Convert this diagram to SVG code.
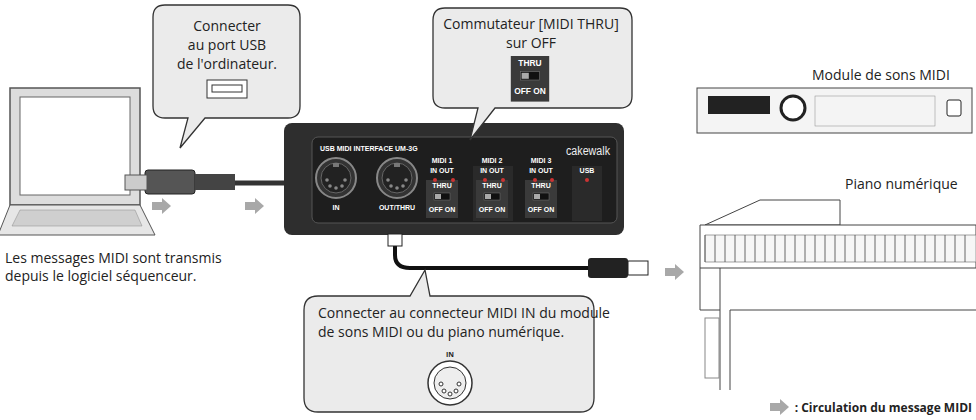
<svg xmlns="http://www.w3.org/2000/svg" width="976" height="420" viewBox="0 0 976 420">
<defs>
<style>
text{font-family:"Open Sans","Liberation Sans",sans-serif;fill:#222}
.t{font-size:14px}
.w{fill:#fff;font-size:7px;font-weight:bold;font-family:"Liberation Sans",sans-serif}
.call{fill:#ebebeb;stroke:#333;stroke-width:1.3}
.flow{fill:#a8a8a8}
</style>
<g id="arrowshape"><path d="M0,-4 H10 V-8 L19,0 L10,8 V4 H0 Z" class="flow"/></g>
<g id="din"><circle r="20" fill="#333" stroke="#888" stroke-width="2"/><circle r="15" fill="#222" stroke="#666"/><rect x="-3" y="-15" width="6" height="4" fill="#777"/><g fill="#888"><circle cx="-9" cy="2" r="1.8"/><circle cx="9" cy="2" r="1.8"/><circle cx="-6" cy="8" r="1.8"/><circle cx="6" cy="8" r="1.8"/><circle cx="0" cy="10" r="1.8"/></g></g>
<g id="sw"><rect x="-16" y="-10" width="32" height="38" fill="#3a3a3a"/><text class="w" x="0" y="-2" text-anchor="middle">THRU</text><rect x="-8" y="3" width="16" height="7" fill="#111" stroke="#777" stroke-width=".5"/><rect x="-7" y="4" width="6" height="5" fill="#aaa"/><text class="w" x="0" y="22" text-anchor="middle">OFF ON</text></g>
</defs>
<rect width="976" height="420" fill="#fff"/>

<g id="laptop">
<path d="M10,88 H140 V205 H10 Z" fill="#ddd" stroke="#555" stroke-width="1.5"/>
<rect x="20" y="97" width="110" height="98" fill="#fff" stroke="#666"/>
<path d="M10,205 H140 L155,235 H-2 Z" fill="#e6e6e6" stroke="#555"/>
<path d="M20,210 H135 L142,226 H12 Z" fill="#cfcfcf" stroke="#888" stroke-width=".5"/>
</g>

<g id="cables" fill="none">
<path d="M150,183 H290" stroke="#333" stroke-width="5"/>
<path d="M395,240 V255 Q395,268 410,268 H590" stroke="#111" stroke-width="4"/>
</g>
<g id="usbplug">
<rect x="145" y="170" width="50" height="24" rx="3" fill="#555" stroke="#222"/>
<rect x="125" y="175" width="22" height="15" fill="#ccc" stroke="#555"/>
<rect x="195" y="174" width="40" height="16" fill="#444"/>
</g>

<g id="device">
<rect x="284" y="123" width="340" height="112" rx="8" fill="#2e2e2e"/>
<rect x="312" y="137" width="305" height="86" rx="6" fill="#1e1e1e" stroke="#555"/>
<text class="w" x="320" y="151" font-size="7.5">USB MIDI INTERFACE UM-3G</text>
<use href="#din" x="336" y="178"/>
<use href="#din" x="397" y="178"/>
<text class="w" x="336" y="210" text-anchor="middle">IN</text>
<text class="w" x="397" y="210" text-anchor="middle">OUT/THRU</text>
<text class="w" x="442" y="163" text-anchor="middle" font-weight="normal">MIDI 1</text>
<text class="w" x="492" y="163" text-anchor="middle" font-weight="normal">MIDI 2</text>
<text class="w" x="541" y="163" text-anchor="middle" font-weight="normal">MIDI 3</text>
<g><text class="w" x="442" y="173" text-anchor="middle">IN  OUT</text><use href="#sw" x="442" y="190"/></g>
<rect x="473" y="166" width="40" height="55" fill="#2a2a2a"/>
<g><text class="w" x="492" y="173" text-anchor="middle">IN  OUT</text><use href="#sw" x="492" y="190"/></g>
<g><text class="w" x="541" y="173" text-anchor="middle">IN  OUT</text><use href="#sw" x="541" y="190"/></g>
<rect x="572" y="166" width="30" height="55" fill="#2a2a2a"/>
<text class="w" x="587" y="173" text-anchor="middle">USB</text>
<circle cx="587" cy="180" r="2" fill="#c33"/>
<g fill="#c33"><circle cx="435" cy="180" r="2"/><circle cx="453" cy="180" r="2"/><circle cx="485" cy="180" r="2"/><circle cx="503" cy="180" r="2"/><circle cx="535" cy="180" r="2"/><circle cx="552" cy="180" r="2"/></g>
<text x="566" y="155" textLength="44" lengthAdjust="spacingAndGlyphs" style="fill:#eee;font-size:12px;font-family:'Liberation Sans',sans-serif">cakewalk</text>
<rect x="388" y="234" width="14" height="12" fill="#fff" stroke="#222"/>
</g>
<g id="midiplug"><rect x="588" y="258" width="40" height="20" rx="3" fill="#222"/><rect x="628" y="261" width="20" height="14" fill="#fff" stroke="#222"/></g>

<g id="flow">
<use href="#arrowshape" x="152" y="206"/>
<use href="#arrowshape" x="245" y="206"/>
<use href="#arrowshape" x="665" y="272"/>
</g>

<g id="callout-usb">
<path class="call" d="M165,5 H288 Q300,5 300,17 V106 Q300,118 288,118 H205 L180,148 L188,118 H165 Q153,118 153,106 V17 Q153,5 165,5 Z"/>
<text class="t" x="227" y="31" text-anchor="middle">Connecter</text>
<text class="t" x="227" y="50" text-anchor="middle">au port USB</text>
<text class="t" x="227" y="69" text-anchor="middle">de l'ordinateur.</text>
<rect x="207" y="80" width="40" height="18" fill="#fff" stroke="#333"/>
<rect x="212" y="85" width="30" height="7" fill="none" stroke="#333"/>
</g>

<g id="callout-thru">
<path class="call" d="M445,8 H620 Q632,8 632,20 V96 Q632,108 620,108 H495 L470,140 L478,108 H445 Q433,108 433,96 V20 Q433,8 445,8 Z"/>
<text class="t" x="531" y="29" text-anchor="middle">Commutateur [MIDI THRU]</text>
<text class="t" x="531" y="48" text-anchor="middle">sur OFF</text>
<g transform="translate(530,68) scale(1.2)"><use href="#sw"/></g>
</g>

<g id="callout-in">
<path class="call" d="M318,296 H410 L425,270 L430,296 H580 Q594,296 594,310 V398 Q594,412 580,412 H318 Q304,412 304,398 V310 Q304,296 318,296 Z"/>
<text class="t" x="318" y="318">Connecter au connecteur MIDI IN du module</text>
<text class="t" x="318" y="337">de sons MIDI ou du piano numérique.</text>
<text x="450" y="357" text-anchor="middle" style="fill:#222;font-size:7px;font-weight:bold">IN</text>
<circle cx="450" cy="383" r="22" fill="#fff" stroke="#333" stroke-width="1.5"/>
<circle cx="450" cy="383" r="16" fill="#eee" stroke="#333"/>
<g fill="#fff" stroke="#333"><circle cx="441" cy="384" r="2"/><circle cx="459" cy="384" r="2"/><circle cx="444" cy="391" r="2"/><circle cx="456" cy="391" r="2"/><circle cx="450" cy="394" r="2"/></g>
</g>

<text x="5" y="263" class="t" font-size="13">Les messages MIDI sont transmis</text>
<text x="5" y="281" class="t" font-size="13">depuis le logiciel séquenceur.</text>

<g id="module">
<text x="812" y="80" class="t" font-size="13">Module de sons MIDI</text>
<rect x="697" y="88" width="275" height="45" fill="#f4f4f4" stroke="#444"/>
<rect x="708" y="96" width="62" height="18" fill="#222"/>
<circle cx="793" cy="108" r="12" fill="#fff" stroke="#222" stroke-width="3"/>
<rect x="815" y="96" width="120" height="30" fill="none" stroke="#888" stroke-width=".5"/>
<rect x="947" y="100" width="14" height="16" rx="2" fill="#fff" stroke="#222"/>
</g>

<g id="piano">
<path d="M705,225 L760,200 H840 V225 Z" fill="#fff" stroke="#444"/>
<path d="M700,225 H976 V268 H700 Z" fill="#fff" stroke="#444"/>
<path d="M705,235 H976 V262 H705 Z" fill="#f6f6f6" stroke="#666" stroke-width=".6"/>
<path d="M705,235 V262 M715,235 V262 M725,235 V262 M735,235 V262 M745,235 V262 M755,235 V262 M765,235 V262 M775,235 V262 M785,235 V262 M795,235 V262 M805,235 V262 M815,235 V262 M825,235 V262 M835,235 V262 M845,235 V262 M855,235 V262 M865,235 V262 M875,235 V262 M885,235 V262 M895,235 V262 M905,235 V262 M915,235 V262 M925,235 V262 M935,235 V262 M945,235 V262 M955,235 V262 M965,235 V262" stroke="#444" stroke-width=".8"/>
<path d="M700,268 V310 H720 V390 M976,310 H730 V390 M720,310 V268" fill="none" stroke="#444"/>
<rect x="705" y="318" width="14" height="60" fill="none" stroke="#888"/>
<text x="845" y="189" class="t" font-size="13">Piano numérique</text>
</g>

<g id="legend">
<use href="#arrowshape" x="770" y="407"/>
<text x="972" y="412" text-anchor="end" style="font-size:12px;font-weight:bold">: Circulation du message MIDI</text>
</g>
</svg>
